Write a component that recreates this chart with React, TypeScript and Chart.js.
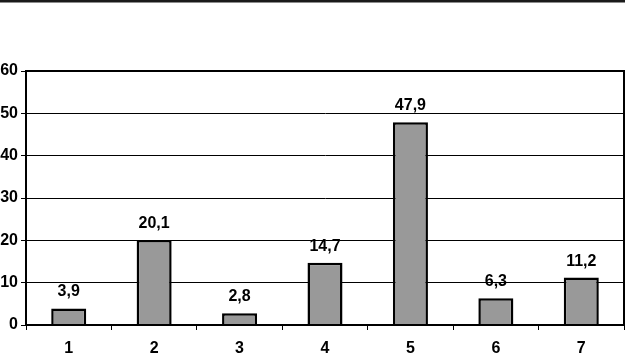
import React, { useEffect, useRef } from "react";
import { Chart, registerables } from "chart.js";

Chart.register(...registerables);

const categories = ["1", "2", "3", "4", "5", "6", "7"];
const values = [3.9, 20.1, 2.8, 14.7, 47.9, 6.3, 11.2];
const valueLabels = ["3,9", "20,1", "2,8", "14,7", "47,9", "6,3", "11,2"];
const yTicks = [0, 10, 20, 30, 40, 50, 60];

const FONT = "'Liberation Sans', Arial, sans-serif";

const decorPlugin = {
  id: "decor",
  beforeDraw(chart: any) {
    const ctx = chart.ctx;
    ctx.save();
    ctx.fillStyle = "#ffffff";
    ctx.fillRect(0, 0, chart.width, chart.height);
    ctx.fillStyle = "#1a1a1a";
    ctx.fillRect(0, 0, chart.width, 2.5);
    ctx.restore();
  },
  afterDatasetsDraw(chart: any) {
    const ctx = chart.ctx;
    const a = chart.chartArea;
    ctx.save();
    ctx.strokeStyle = "#000";
    ctx.lineWidth = 2;
    ctx.strokeRect(a.left, a.top, a.right - a.left, a.bottom - a.top);
    const meta = chart.getDatasetMeta(0);
    ctx.fillStyle = "#000";
    ctx.font = `bold 16px ${FONT}`;
    ctx.textAlign = "center";
    ctx.textBaseline = "alphabetic";
    meta.data.forEach((bar: any, i: number) => {
      ctx.fillText(valueLabels[i], bar.x, bar.y - 12);
    });
    ctx.restore();
  },
};

export default function App() {
  const ref = useRef<HTMLCanvasElement>(null);
  useEffect(() => {
    if (!ref.current) return;
    const chart = new Chart(ref.current, {
      type: "bar",
      data: {
        labels: categories,
        datasets: [
          {
            data: values,
            backgroundColor: "#999999",
            borderColor: "#000000",
            borderWidth: 2.5,
            borderSkipped: "bottom",
            barPercentage: 0.41,
            categoryPercentage: 1,
          },
        ],
      },
      options: {
        animation: false,
        responsive: false,
        devicePixelRatio: 1,
        layout: { padding: { top: 71, right: 1, left: 0, bottom: 0 } },
        plugins: { legend: { display: false }, tooltip: { enabled: false } },
        scales: {
          x: {
            offset: true,
            grid: {
              offset: true,
              drawOnChartArea: false,
              tickLength: 5,
              color: "#000",
              lineWidth: 1,
            },
            border: { color: "#000", width: 2 },
            ticks: {
              color: "#000",
              font: { family: FONT, size: 16, weight: "bold" },
              padding: 9,
            },
            afterFit(scale: any) {
              scale.height = 29;
            },
          },
          y: {
            min: 0,
            max: 60,
            afterBuildTicks(scale: any) {
              scale.ticks = yTicks.map((v) => ({ value: v }));
            },
            grid: {
              color: "#000",
              lineWidth: 1,
              tickLength: 5,
            },
            border: { color: "#000", width: 2 },
            ticks: {
              color: "#000",
              font: { family: FONT, size: 16, weight: "bold" },
              padding: 3,
            },
            afterFit(scale: any) {
              scale.width = 26;
            },
          },
        },
      },
      plugins: [decorPlugin],
    });
    return () => chart.destroy();
  }, []);
  return (
    <div style={{ position: "fixed", left: 0, top: 0, width: 625, height: 354, background: "#fff" }}>
      <canvas ref={ref} width={625} height={354} style={{ width: 625, height: 354 }} />
    </div>
  );
}
